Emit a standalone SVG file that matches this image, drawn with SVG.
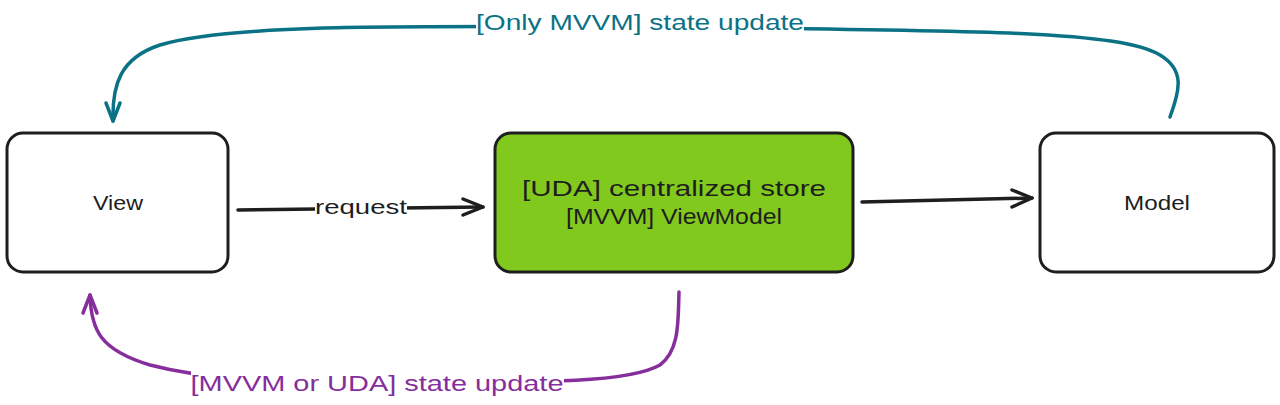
<svg xmlns="http://www.w3.org/2000/svg" width="1280" height="405" viewBox="0 0 1280 405">
<style>
.box{stroke:#1e1e1e;stroke-width:3;stroke-linejoin:round}
.lbl{font-family:"Liberation Sans",Arial,sans-serif;fill:#1e1e1e;text-anchor:middle;dominant-baseline:central}
.conn{fill:none;stroke-width:3.5;stroke-linecap:round;stroke-linejoin:round}
.blk{stroke:#1e1e1e}
.teal{stroke:#0b7285}
.purp{stroke:#862e9c}
</style>
<rect width="1280" height="405" fill="#ffffff"/>
<g id="view">
<rect class="box" x="7" y="133" width="221" height="139" rx="16" fill="#ffffff"/>
<text class="lbl" x="118" y="203" font-size="20" textLength="50" lengthAdjust="spacingAndGlyphs">View</text>
</g>
<g id="store">
<rect class="box" x="495" y="133" width="358" height="139" rx="16" fill="#82c91e"/>
<text class="lbl" x="674" y="188" font-size="22" textLength="304" lengthAdjust="spacingAndGlyphs">[UDA] centralized store</text>
<text class="lbl" x="674" y="216" font-size="22" textLength="216" lengthAdjust="spacingAndGlyphs">[MVVM] ViewModel</text>
</g>
<g id="model">
<rect class="box" x="1040" y="133" width="234" height="139" rx="16" fill="#ffffff"/>
<text class="lbl" x="1157" y="203" font-size="20" textLength="66" lengthAdjust="spacingAndGlyphs">Model</text>
</g>
<g id="connectors">
<path class="conn blk" d="M238 210 L483 207"/>
<path class="conn blk" d="M463 199 L483 207 L463 215"/>
<rect x="315" y="196" width="92" height="24" fill="#ffffff"/>
<text class="lbl" x="361" y="207" font-size="20" textLength="92" lengthAdjust="spacingAndGlyphs">request</text>
<path class="conn blk" d="M862 202 L1032 198"/>
<path class="conn blk" d="M1012 190 L1032 198 L1012 207"/>
<path class="conn teal" d="M1170 117 C1180 90 1185 70 1160 55 C1120 32 1000 30 640 27 C400 26 230 24 160 45 C120 58 112 85 113 121"/>
<path class="conn teal" d="M106 103 L113 121 L120 103"/>
<rect x="476" y="9" width="328" height="28" fill="#ffffff"/>
<text class="lbl" x="640" y="22" font-size="22" style="fill:#0b7285" textLength="328" lengthAdjust="spacingAndGlyphs">[Only MVVM] state update</text>
<path class="conn purp" d="M679 292 C678 320 680 350 660 365 C630 382 560 383 377 382 C250 381 200 378 150 365 C100 350 91 330 90 295"/>
<path class="conn purp" d="M83 313 L90 295 L97 313"/>
<rect x="191" y="370" width="373" height="26" fill="#ffffff"/>
<text class="lbl" x="377" y="383" font-size="22" style="fill:#862e9c" textLength="373" lengthAdjust="spacingAndGlyphs">[MVVM or UDA] state update</text>
</g>
</svg>
